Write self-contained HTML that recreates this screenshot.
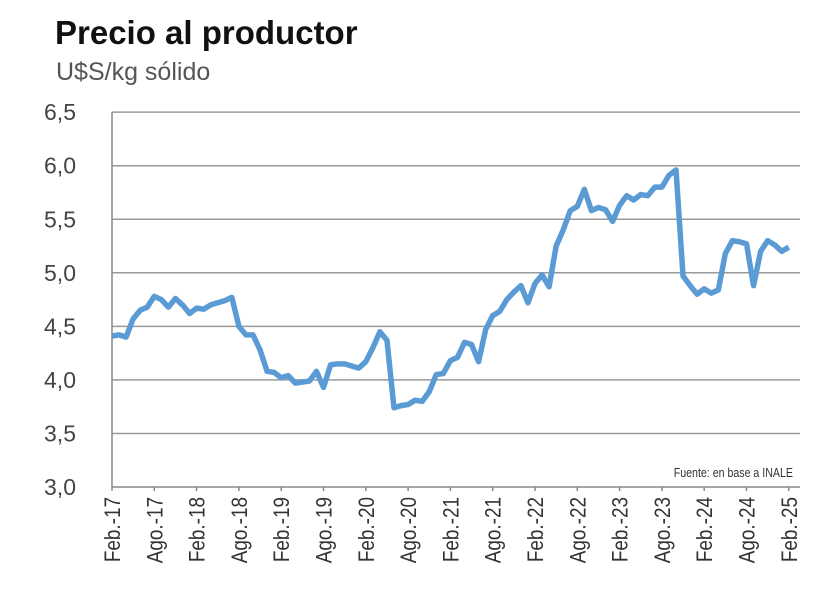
<!DOCTYPE html>
<html><head><meta charset="utf-8"><style>
body{margin:0;background:#fff;}
svg{display:block;font-family:"Liberation Sans",sans-serif;}
</style></head><body>
<svg id="chart" width="840" height="592" viewBox="0 0 840 592">
<text x="55" y="44" font-size="33" font-weight="bold" fill="#111" letter-spacing="0">Precio al productor</text>
<text x="56" y="80" font-size="25" fill="#555">U$S/kg sólido</text>
<g id="grid"></g>
<g id="yt"></g>
<g id="xt"></g>
<text x="793" y="477" font-size="12.5" fill="#333" text-anchor="end" transform="translate(793 0) scale(0.85 1) translate(-793 0)">Fuente: en base a INALE</text>
<polyline id="line" fill="none" stroke="#5b9bd5" stroke-width="5.5" stroke-linejoin="round"/>
</svg>
<script>
const yTicks=[3.0,3.5,4.0,4.5,5.0,5.5,6.0,6.5];
const yTickLabels=["3,0","3,5","4,0","4,5","5,0","5,5","6,0","6,5"];
const xTickLabels=["Feb.-17","Ago.-17","Feb.-18","Ago.-18","Feb.-19","Ago.-19","Feb.-20","Ago.-20","Feb.-21","Ago.-21","Feb.-22","Ago.-22","Feb.-23","Ago.-23","Feb.-24","Ago.-24","Feb.-25"];
const prices=[4.41,4.42,4.40,4.57,4.65,4.68,4.78,4.75,4.68,4.76,4.70,4.62,4.67,4.66,4.70,4.72,4.74,4.77,4.50,4.42,4.42,4.28,4.08,4.07,4.02,4.04,3.97,3.98,3.99,4.08,3.93,4.14,4.15,4.15,4.13,4.11,4.17,4.30,4.45,4.37,3.74,3.76,3.77,3.81,3.80,3.89,4.05,4.06,4.18,4.21,4.35,4.33,4.17,4.47,4.60,4.64,4.75,4.82,4.88,4.72,4.90,4.98,4.87,5.25,5.40,5.58,5.62,5.78,5.58,5.61,5.59,5.48,5.63,5.72,5.68,5.73,5.72,5.80,5.80,5.91,5.96,4.97,4.88,4.80,4.85,4.81,4.84,5.18,5.30,5.29,5.27,4.88,5.20,5.30,5.26,5.20,5.24];
const X0=112,XM=7.05,Y0=487,YS=107.1;
const xs=i=>X0+i*XM, ys=v=>Y0-(v-3)*YS;
const NS="http://www.w3.org/2000/svg";
const g=document.getElementById('grid'),yt=document.getElementById('yt'),xt=document.getElementById('xt');
function mk(t,a,p){const e=document.createElementNS(NS,t);for(const k in a)e.setAttribute(k,a[k]);p.appendChild(e);return e;}
yTicks.forEach((v,i)=>{
  if(i>0){const l=mk('line',{x1:X0,x2:800,y1:ys(v),y2:ys(v),stroke:'#9a9a9a','stroke-width':1.5},g);
  
  }
  const t=mk('text',{x:76,y:ys(v)+8,'font-size':23,fill:'#444','text-anchor':'end'},yt);
  t.textContent=yTickLabels[i];
  
  
});
const ax=mk('path',{d:`M${X0} ${ys(6.5)}V${Y0}H800`,stroke:'#888','stroke-width':1.5,fill:'none'},g);


xTickLabels.forEach((s,i)=>{
  const x=xs(i*6);
  const tk=mk('line',{x1:x,x2:x,y1:Y0,y2:Y0+4,stroke:'#888','stroke-width':1.5},xt);
  
  
  const t=mk('text',{'font-size':22,fill:'#333','text-anchor':'end',transform:`translate(${x+8} 497) rotate(-90) scale(0.86 1)`},xt);
  t.textContent=s;
  
  
});
document.getElementById('line').setAttribute('points',prices.map((v,i)=>xs(i)+','+ys(v)).join(' '));
</script>
</body></html>
